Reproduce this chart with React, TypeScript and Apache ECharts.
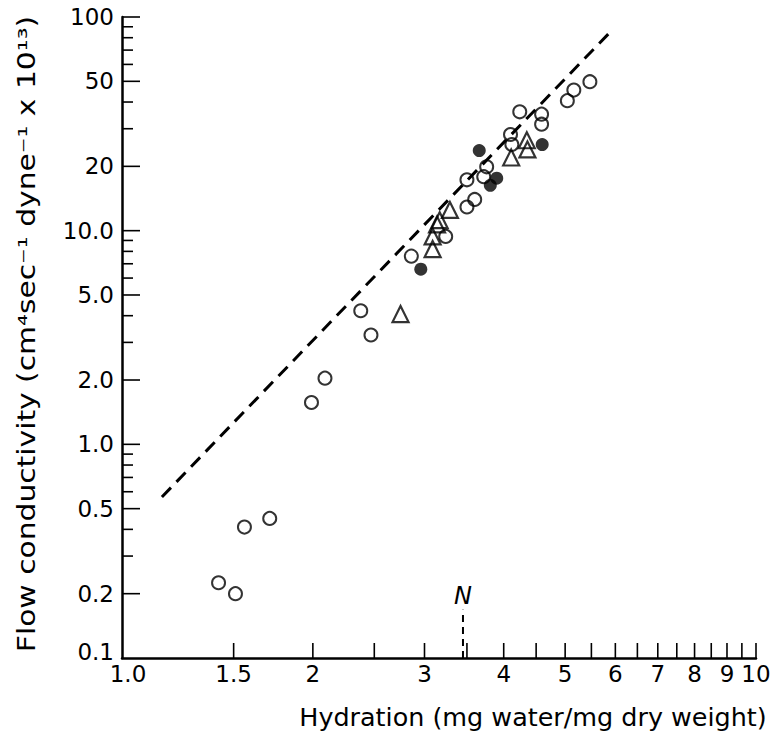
import React, { useEffect, useRef } from "react";
import * as echarts from "echarts";

// Open circles
const openX = [1.42, 1.51, 1.56, 1.71, 1.99, 2.09, 2.38, 2.47, 2.86, 3.24, 3.5, 3.6, 3.5, 3.72, 3.76, 4.1, 4.12, 4.24, 4.59, 4.59, 5.04, 5.16, 5.47];
const openY = [0.225, 0.2, 0.41, 0.45, 1.57, 2.04, 4.22, 3.25, 7.6, 9.4, 12.9, 14.0, 17.3, 17.9, 19.9, 28.2, 25.3, 36.0, 35.1, 31.5, 40.6, 45.5, 49.8];
// Filled circles
const filledX = [2.96, 3.66, 3.81, 3.9, 4.6];
const filledY = [6.6, 23.7, 16.3, 17.6, 25.3];
// Open triangles
const triX = [2.75, 3.09, 3.09, 3.14, 3.17, 3.29, 4.11, 4.35, 4.36];
const triY = [4.07, 8.2, 9.4, 10.7, 11.2, 12.5, 22.0, 26.5, 24.0];
// Dashed reference line
const fitX = [1.156, 5.93];
const fitY = [0.567, 86.9];
// N marker
const nX = 3.45;
const nY = [0.1, 0.168];

const xTickValues = [1.5, 2, 2.5, 3, 3.5, 4, 4.5, 5, 5.5, 6, 6.5, 7, 7.5, 8, 8.5, 9, 9.5, 10];
const xLabelValues = [1, 1.5, 2, 3, 4, 5, 6, 7, 8, 9, 10];
const xLabelTexts = ["1.0", "1.5", "2", "3", "4", "5", "6", "7", "8", "9", "10"];
const yTickValues = [0.2, 0.3, 0.4, 0.5, 0.6, 0.7, 0.8, 0.9, 1, 2, 3, 4, 5, 6, 7, 8, 9, 10, 20, 30, 40, 50, 60, 70, 80, 90, 100];
const yLabelValues = [100, 50, 20, 10, 5, 2, 1, 0.5, 0.2, 0.1];
const yLabelTexts = ["100", "50", "20", "10.0", "5.0", "2.0", "1.0", "0.5", "0.2", "0.1"];

const FONT = "DejaVu Sans";

export default function App() {
  const ref = useRef<HTMLDivElement>(null);
  useEffect(() => {
    if (!ref.current) return;
    const chart = echarts.init(ref.current, undefined, { renderer: "svg" });
    const zip = (xs: number[], ys: number[]) => xs.map((x, i) => [x, ys[i]]);
    const option: any = {
      animation: false,
      backgroundColor: "#fff",
      grid: { left: 122, right: 17, top: 17, bottom: 78, containLabel: false },
      xAxis: {
        type: "log",
        logBase: 10,
        min: 1,
        max: 10,
        axisLine: { show: true, lineStyle: { color: "#000", width: 2.5 } },
        axisTick: { show: false },
        axisLabel: { show: false },
        splitLine: { show: false },
        minorTick: { show: false },
      },
      yAxis: {
        type: "log",
        logBase: 10,
        min: 0.1,
        max: 100,
        axisLine: { show: true, lineStyle: { color: "#000", width: 2.5 } },
        axisTick: { show: false },
        axisLabel: { show: false },
        splitLine: { show: false },
        minorTick: { show: false },
      },
      graphic: [
        {
          type: "text",
          x: 533,
          y: 718,
          scaleX: 1.06,
          style: {
            text: "Hydration (mg water/mg dry weight)",
            font: `24px "${FONT}"`,
            fill: "#000",
            align: "center",
            verticalAlign: "middle",
          },
        },
        {
          type: "text",
          x: 27,
          y: 334,
          rotation: Math.PI / 2,
          scaleX: 1.24,
          style: {
            text: "Flow conductivity (cm⁴sec⁻¹ dyne⁻¹ x 10¹³)",
            font: `24px "${FONT}"`,
            fill: "#000",
            align: "center",
            verticalAlign: "middle",
          },
        },
      ],
      series: [
        {
          type: "line",
          data: zip(fitX, fitY),
          symbol: "none",
          silent: true,
          lineStyle: { color: "#000", width: 3, type: [13, 8] },
          z: 1,
        },
        {
          type: "scatter",
          data: zip(openX, openY),
          symbol: "circle",
          symbolSize: 13,
          silent: true,
          itemStyle: { color: "rgba(0,0,0,0)", borderColor: "#000", borderWidth: 2 },
          z: 3,
        },
        {
          type: "scatter",
          data: zip(triX, triY),
          symbol: "triangle",
          symbolSize: 16,
          silent: true,
          itemStyle: { color: "rgba(0,0,0,0)", borderColor: "#000", borderWidth: 2.2 },
          z: 3,
        },
        {
          type: "scatter",
          data: zip(filledX, filledY),
          symbol: "circle",
          symbolSize: 13,
          silent: true,
          itemStyle: { color: "#000" },
          z: 4,
        },
        {
          type: "custom",
          silent: true,
          clip: false,
          data: xTickValues.map((v) => [v, 0.1]),
          renderItem: (params: any, api: any) => {
            const p = api.coord([api.value(0), api.value(1)]);
            return {
              type: "line",
              shape: { x1: p[0], y1: p[1], x2: p[0], y2: p[1] - 15 },
              style: { stroke: "#000", lineWidth: 1.6 },
            };
          },
        },
        {
          type: "custom",
          silent: true,
          clip: false,
          data: xLabelValues.map((v, i) => [v, 0.1, i]),
          renderItem: (params: any, api: any) => {
            const p = api.coord([api.value(0), api.value(1)]);
            const i = api.value(2);
            return {
              type: "text",
              x: p[0] + (i === 0 ? 6 : 0),
              y: p[1] + 16,
              style: {
                text: xLabelTexts[i],
                font: `23px "${FONT}"`,
                fill: "#000",
                align: "center",
                verticalAlign: "middle",
              },
            };
          },
        },
        {
          type: "custom",
          silent: true,
          clip: false,
          data: yTickValues.map((v) => [1, v]),
          renderItem: (params: any, api: any) => {
            const v = api.value(1);
            const p = api.coord([api.value(0), v]);
            const len = yLabelValues.some((u) => Math.abs(u - v) < 1e-9) ? 18 : 11;
            return {
              type: "line",
              shape: { x1: p[0], y1: p[1], x2: p[0] + len, y2: p[1] },
              style: { stroke: "#000", lineWidth: 1.6 },
            };
          },
        },
        {
          type: "custom",
          silent: true,
          clip: false,
          data: yLabelValues.map((v, i) => [1, v, i]),
          renderItem: (params: any, api: any) => {
            const p = api.coord([api.value(0), api.value(1)]);
            const i = api.value(2);
            return {
              type: "text",
              x: p[0] - 8,
              y: p[1] + (i === yLabelValues.length - 1 ? -6 : 0),
              style: {
                text: yLabelTexts[i],
                font: `23px "${FONT}"`,
                fill: "#000",
                align: "right",
                verticalAlign: "middle",
              },
            };
          },
        },
        {
          type: "custom",
          silent: true,
          clip: false,
          data: [[nX, nY[0], nY[1]]],
          renderItem: (params: any, api: any) => {
            const p0 = api.coord([api.value(0), api.value(1)]);
            const p1 = api.coord([api.value(0), api.value(2)]);
            return {
              type: "group",
              children: [
                {
                  type: "line",
                  shape: { x1: p0[0], y1: p0[1], x2: p1[0], y2: p1[1] },
                  style: { stroke: "#000", lineWidth: 2, lineDash: [7, 5] },
                },
                {
                  type: "text",
                  x: p1[0],
                  y: p1[1] - 14,
                  style: {
                    text: "N",
                    font: `italic 24px "${FONT}"`,
                    fill: "#000",
                    align: "center",
                    verticalAlign: "middle",
                  },
                },
              ],
            };
          },
        },
      ],
    };
    chart.setOption(option);
    return () => chart.dispose();
  }, []);
  return (
    <div
      ref={ref}
      style={{ position: "absolute", left: 0, top: 0, width: 773, height: 736, background: "#fff" }}
    />
  );
}
